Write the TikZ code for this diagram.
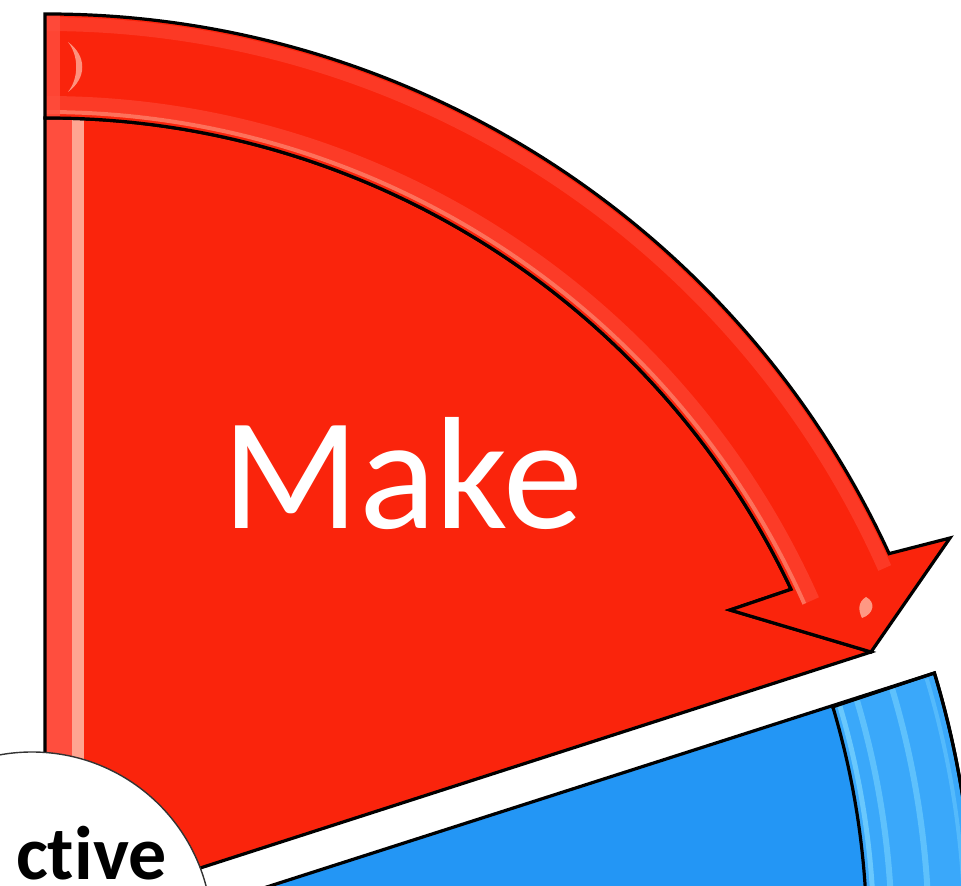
\documentclass[tikz,border=0pt]{standalone}
\usepackage{fontspec}
\setmainfont{Carlito}[Ligatures=NoCommon]
\usetikzlibrary{calc}
\definecolor{redfill}{RGB}{250,36,12}
\definecolor{redlight}{RGB}{255,78,62}
\definecolor{redpink}{RGB}{255,165,145}
\definecolor{bluefill}{RGB}{35,150,245}
\definecolor{blueband}{RGB}{58,168,250}
\definecolor{bluestripe}{RGB}{125,215,255}
\tikzset{
  outline/.style={draw=black, line width=3.2pt, line join=miter},
  gloss/.style={line width=#1},
}
\begin{document}
\begin{tikzpicture}[x=1pt,y=1pt]
\useasboundingbox (0,0) rectangle (961,886);
\clip (0,0) rectangle (961,886);
\coordinate (C) at (47,-55);
% ---------- paths ----------
\def\bluebody{(200,-22.4) -- (934.4,213) arc[start angle=16.8, end angle=-12, radius=927] -- (700,-100) -- cycle}
\def\blueband{(832.8,179.2) -- (934.4,213) arc[start angle=16.8, end angle=-12, radius=927] -- (849.1,-225.5) arc[start angle=-12, end angle=16.6, radius=820] -- cycle}
\def\redbody{(45,-32) -- (45,768) arc[start angle=90.14, end angle=25.3, radius=823] -- (730,276) -- (871,234) -- cycle}
\def\redarrow{(45,872) arc[start angle=90.12, end angle=24.7, radius=927] -- (950,348) -- (871,234) -- (730,276) -- (791.1,296.7) arc[start angle=25.3, end angle=90.14, radius=823] -- cycle}
% ---------- blue segment ----------
\fill[bluefill] \bluebody;
\fill[blueband] \blueband;
\begin{scope}
  \clip \blueband;
  \draw[bluestripe, gloss=5pt, opacity=.7] (C) ++(16.6:827) arc[start angle=16.6, end angle=-12, radius=827];
  \draw[bluestripe, gloss=6pt, opacity=.55] (C) ++(16.6:845) arc[start angle=16.6, end angle=-12, radius=845];
  \draw[bluestripe, gloss=6pt, opacity=.55] (C) ++(16.6:882) arc[start angle=16.6, end angle=-12, radius=882];
  \draw[bluestripe, gloss=4pt, opacity=.4] (C) ++(16.6:918) arc[start angle=16.6, end angle=-12, radius=918];
\end{scope}
\draw[outline] \bluebody;
\draw[outline] \blueband;
% ---------- red segment body ----------
\fill[redfill] \redbody;
\begin{scope}
  \clip \redbody;
  \fill[redlight] (46,-60) rectangle (72,780);
  \fill[redpink] (72,-60) rectangle (84,780);
\end{scope}
\draw[outline] \redbody;
% ---------- red arrow ----------
\fill[redfill] \redarrow;
\begin{scope}
  \clip \redarrow;
  \draw[redlight, gloss=14pt, opacity=.5] (C) ++(90.5:917) arc[start angle=90.5, end angle=24, radius=917];
  \draw[redlight, gloss=14pt, opacity=.55] (C) ++(90.5:838) arc[start angle=90.5, end angle=24, radius=838];
  \draw[redpink, gloss=4pt, opacity=.6] (C) ++(90.5:829) arc[start angle=90.5, end angle=24, radius=829];
  \fill[redlight, opacity=.8] (46,760) rectangle (60,880);
  \fill[redpink, opacity=.85] (68,844) .. controls (87,830) and (87,808) .. (68,794) .. controls (79,808) and (79,830) .. (68,844) -- cycle;
  \fill[redpink, opacity=.9] (866,289) .. controls (876,284) and (874,272) .. (862,268) .. controls (858,276) and (858,284) .. (866,289) -- cycle;
\end{scope}
\draw[outline] \redarrow;
% ---------- centre circle ----------
\draw[fill=white, draw=black!80, line width=1.4pt] (32,-46) circle[radius=180];
% ---------- texts ----------
\node[anchor=base west, inner sep=0, text=white, font=\fontsize{160}{160}\selectfont] (make) at (222,357) {Make};
\node[anchor=base west, inner sep=0, text=black, font=\bfseries\fontsize{76}{76}\selectfont] (ctive) at (16,6) {ct\kern0ptive};
\end{tikzpicture}
\end{document}
